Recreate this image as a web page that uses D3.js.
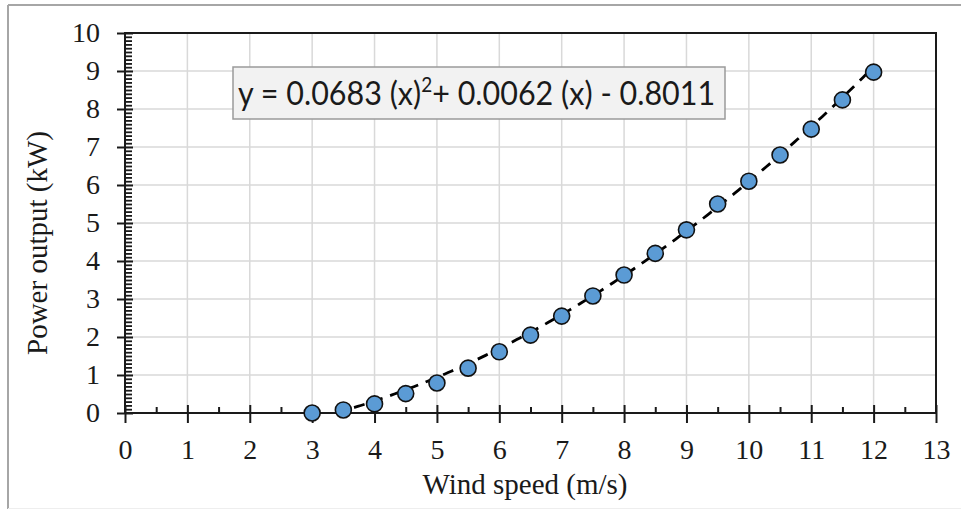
<!DOCTYPE html>
<html>
<head>
<meta charset="utf-8">
<script src="https://cdn.jsdelivr.net/npm/d3@7"></script>
<style>
  html, body { margin: 0; padding: 0; background: #fff; }
  svg { display: block; }
</style>
</head>
<body>
<svg id="chart" width="961" height="512"></svg>
<script>
// ---- data ----
const windSpeed = [3, 3.5, 4, 4.5, 5, 5.5, 6, 6.5, 7, 7.5, 8, 8.5, 9, 9.5, 10, 10.5, 11, 11.5, 12];
const powerOutput = [0.0, 0.08, 0.24, 0.51, 0.79, 1.18, 1.61, 2.05, 2.55, 3.08, 3.63, 4.2, 4.82, 5.5, 6.1, 6.79, 7.47, 8.24, 8.97];
const xTicks = [0, 1, 2, 3, 4, 5, 6, 7, 8, 9, 10, 11, 12, 13];
const yTicks = [0, 1, 2, 3, 4, 5, 6, 7, 8, 9, 10];
const trendCoefficients = [0.0683, 0.0062, -0.8011]; // a, b, c
const xTitle = "Wind speed (m/s)";
const yTitle = "Power output (kW)";

(function () {
// ---- layout ----
const svg = d3.select("#chart");
const pL = 125, pR = 936, pT = 33, pB = 413;
const x = d3.scaleLinear().domain([0, 13]).range([pL, pR]);
const y = d3.scaleLinear().domain([0, 10]).range([pB, pT]);
const serif = "'Liberation Serif', 'Times New Roman', serif";

// outer frame (top & left gray)
svg.append("line").attr("x1", 8).attr("x2", 961).attr("y1", 5).attr("y2", 5)
  .attr("stroke", "#a6a6a6").attr("stroke-width", 2);
svg.append("line").attr("x1", 8).attr("x2", 8).attr("y1", 5).attr("y2", 509)
  .attr("stroke", "#a6a6a6").attr("stroke-width", 2);
svg.append("line").attr("x1", 8).attr("x2", 961).attr("y1", 508.5).attr("y2", 508.5)
  .attr("stroke", "#eeeeee").attr("stroke-width", 1);

// gridlines
const grid = svg.append("g");
grid.selectAll(".vg").data(xTicks.slice(1, -1)).enter().append("line")
  .attr("x1", d => x(d)).attr("x2", d => x(d)).attr("y1", pT).attr("y2", pB)
  .attr("stroke", "#d9d9d9").attr("stroke-width", 1.5);
grid.selectAll(".hg").data(yTicks.slice(1, -1)).enter().append("line")
  .attr("x1", pL).attr("x2", pR).attr("y1", d => y(d)).attr("y2", d => y(d))
  .attr("stroke", "#d9d9d9").attr("stroke-width", 1.5);

// plot border
svg.append("rect").attr("x", pL).attr("y", pT).attr("width", pR - pL).attr("height", pB - pT)
  .attr("fill", "none").attr("stroke", "#1a1a1a").attr("stroke-width", 2);

// x axis ticks
const xMinor = d3.range(0, 13, 0.5).filter(v => v % 1 !== 0);
const xAx = svg.append("g").attr("transform", `translate(0,${pB})`);
xAx.call(d3.axisBottom(x).tickValues(xTicks).tickSize(10).tickPadding(16).tickFormat(d3.format("d")));
xAx.select(".domain").remove();
xAx.selectAll(".tick line").attr("stroke", "#1a1a1a").attr("stroke-width", 2).attr("y1", -8);
xAx.selectAll(".tick text").attr("font-family", serif)
  .attr("font-size", 28).attr("fill", "#1a1a1a");
const xAxMinor = svg.append("g").attr("transform", `translate(0,${pB})`);
xAxMinor.call(d3.axisTop(x).tickValues(xMinor).tickSize(6).tickFormat(""));
xAxMinor.select(".domain").remove();
xAxMinor.selectAll(".tick line").attr("stroke", "#1a1a1a").attr("stroke-width", 2);

// y axis ticks
const yMinor = d3.range(0, 100).filter(i => i % 10 !== 0).map(i => i / 10);
const yAx = svg.append("g").attr("transform", `translate(${pL},0)`);
yAx.call(d3.axisLeft(y).tickValues(yTicks).tickSize(8).tickPadding(17).tickFormat(d3.format("d")));
yAx.select(".domain").remove();
yAx.selectAll(".tick line").attr("stroke", "#1a1a1a").attr("stroke-width", 2).attr("x2", 8).attr("x1", -8);
yAx.selectAll(".tick text").attr("font-family", serif)
  .attr("font-size", 28).attr("fill", "#1a1a1a");
const yAxMinor = svg.append("g").attr("transform", `translate(${pL},0)`);
yAxMinor.call(d3.axisRight(y).tickValues(yMinor).tickSize(7).tickFormat(""));
yAxMinor.select(".domain").remove();
yAxMinor.selectAll(".tick line").attr("stroke", "#1a1a1a").attr("stroke-width", 1.8);

// trend line (Excel polynomial trendline, from displayed coefficients)
const [a, b, c] = trendCoefficients;
const x0 = (-b + Math.sqrt(b * b - 4 * a * c)) / (2 * a);
const trendXs = d3.range(x0, 12.0001, 0.05);
svg.append("path")
  .datum(trendXs)
  .attr("d", d3.line().x(d => x(d)).y(d => y(a * d * d + b * d + c)))
  .attr("fill", "none").attr("stroke", "#000").attr("stroke-width", 2.8)
  .attr("stroke-dasharray", "11,8");

// markers
const pts = windSpeed.map((w, i) => ({ w, p: powerOutput[i] }));
svg.append("g").selectAll("circle").data(pts).enter().append("circle")
  .attr("cx", d => x(d.w)).attr("cy", d => y(d.p)).attr("r", 8)
  .attr("fill", "#5b9bd5").attr("stroke", "#111").attr("stroke-width", 1.6);

// equation box
const eq = svg.append("g");
eq.append("rect").attr("x", 233).attr("y", 67).attr("width", 492).attr("height", 52)
  .attr("fill", "#f2f2f2").attr("stroke", "#9a9a9a").attr("stroke-width", 1.5);
const fmt = d3.format(".4f");
const eqText = eq.append("text").attr("transform", "translate(238,105) scale(1,1.08)")
  .attr("font-family", "Lato, 'Open Sans', sans-serif").attr("font-size", 30.5).attr("fill", "#1a1a1a");
eqText.append("tspan").text(`y = ${fmt(a)} (x)`);
eqText.append("tspan").attr("dy", -12).attr("font-size", 19).text("2");
eqText.append("tspan").attr("dy", 12).text(`+ ${fmt(b)} (x) - ${fmt(-c)}`);

// axis titles
svg.append("text").attr("x", 525).attr("y", 494).attr("text-anchor", "middle")
  .attr("font-family", serif).attr("font-size", 29)
  .attr("fill", "#1a1a1a").text(xTitle);
svg.append("text").attr("transform", "translate(47,243) rotate(-90)").attr("text-anchor", "middle")
  .attr("font-family", serif).attr("font-size", 29)
  .attr("fill", "#1a1a1a").text(yTitle);
})();
</script>
</body>
</html>
